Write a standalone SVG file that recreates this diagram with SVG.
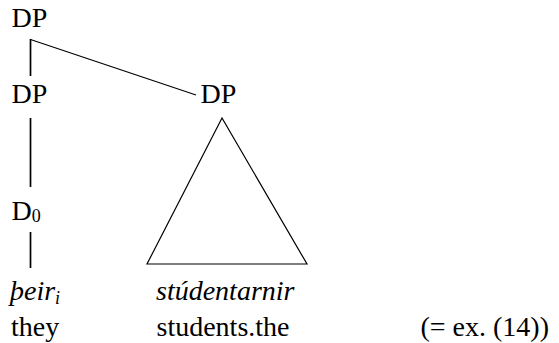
<svg xmlns="http://www.w3.org/2000/svg" width="559" height="343" viewBox="0 0 559 343">
<style>
text{font-family:'Liberation Serif','DejaVu Serif',serif;font-size:28px;fill:#000}
.it{font-style:italic}
.sub{font-size:18px}
.edge{stroke:#000;stroke-width:1.2;fill:none}
.v{stroke:#000;stroke-width:1.7;fill:none}
</style>
<rect width="559" height="343" fill="#fff"/>
<g id="connectors">
<path class="v" d="M30.5 39V76"/>
<path class="edge" d="M30.5 39.5L196 95"/>
<path class="v" d="M30.5 118V187"/>
<path class="v" d="M30.5 232V268"/>
<path class="edge" d="M222 118L147 264H307Z"/>
</g>
<g id="dp-top"><text x="11.5" y="27" font-family="Liberation Serif, serif">DP</text></g>
<g id="dp-left"><text x="11.5" y="103" font-family="Liberation Serif, serif">DP</text></g>
<g id="dp-right"><text x="200.5" y="103" font-family="Liberation Serif, serif">DP</text></g>
<g id="d0"><text x="11.5" y="220" font-family="Liberation Serif, serif">D<tspan class="sub" dy="2">0</tspan></text></g>
<g id="theiri"><text class="it" x="10" y="300" font-family="Liberation Serif, serif">þeir<tspan class="sub" dy="4">i</tspan></text></g>
<g id="they"><text x="11" y="336" font-family="Liberation Serif, serif">they</text></g>
<g id="studentarnir"><text class="it" x="156" y="300" font-family="Liberation Serif, serif">stúdentarnir</text></g>
<g id="students"><text x="156.5" y="336" font-family="Liberation Serif, serif">students.the</text></g>
<g id="ex"><text x="420.5" y="336" font-family="Liberation Serif, serif">(= ex. (14))</text></g>
</svg>
